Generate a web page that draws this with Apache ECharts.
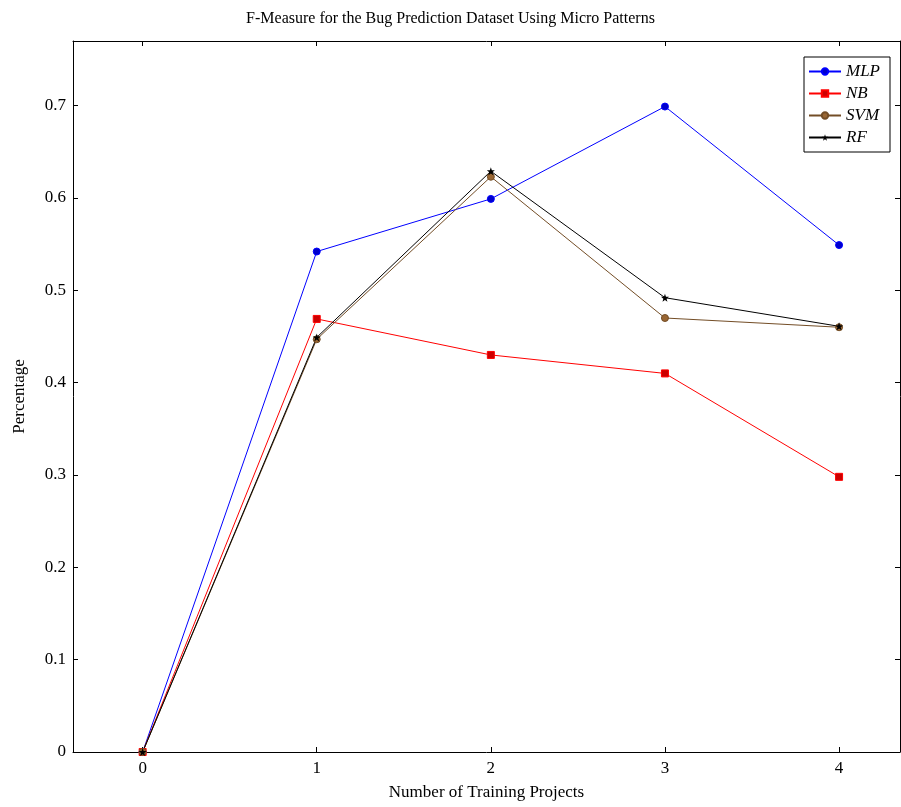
<!DOCTYPE html>
<html>
<head>
<meta charset="utf-8">
<script src="https://cdn.jsdelivr.net/npm/echarts@6/dist/echarts.min.js"></script>
<style>
html,body{margin:0;padding:0;background:#fff;}
#mychart{width:901px;height:807px;}
</style>
</head>
<body>
<div id="mychart"></div>
<script>
// 数据
const projects = [0, 1, 2, 3, 4];
const xTicks = [0, 1, 2, 3, 4];
const yTicks = [0, 0.1, 0.2, 0.3, 0.4, 0.5, 0.6, 0.7];
const mlp = [0, 0.542, 0.599, 0.699, 0.549];
const nb = [0, 0.469, 0.43, 0.41, 0.298];
const svm = [0, 0.447, 0.623, 0.47, 0.46];
const rf = [0, 0.449, 0.629, 0.492, 0.461];

const pair = arr => projects.map((p, i) => [p, arr[i]]);
const starPath = 'path://M0,-10L2.35,-3.24L9.51,-3.09L3.8,1.24L5.88,8.09L0,4L-5.88,8.09L-3.8,1.24L-9.51,-3.09L-2.35,-3.24Z';
const serif = '"Liberation Serif", "DejaVu Serif", serif';

let myEcharts = echarts.init(document.getElementById('mychart'));

const tickStyle = { inside: true, length: 5, lineStyle: { color: '#000', width: 1 } };
const lineStyle = { onZero: false, lineStyle: { color: '#000', width: 1 } };

let option = {
    backgroundColor: '#fff',
    animation: false,
    title: {
        text: 'F-Measure for the Bug Prediction Dataset Using Micro Patterns',
        left: 'center',
        top: 6,
        textStyle: { fontFamily: serif, fontSize: 16, fontWeight: 'normal', color: '#000' }
    },
    legend: {
        right: 11,
        top: 57,
        orient: 'vertical',
        itemWidth: 32,
        itemHeight: 8,
        itemGap: 5,
        padding: [6, 10, 6, 4],
        borderColor: '#000',
        borderWidth: 1,
        backgroundColor: '#fff',
        textStyle: { fontFamily: serif, fontSize: 17, fontStyle: 'italic', color: '#000' },
        data: ['MLP', 'NB', 'SVM', 'RF']
    },
    grid: { left: 73, right: 1, top: 41, bottom: 55, outerBoundsMode: 'none', containLabel: false },
    xAxis: [{
        type: 'value',
        min: -0.4,
        max: 4.35,
        name: 'Number of Training Projects',
        nameLocation: 'middle',
        nameGap: 32,
        nameTextStyle: { fontFamily: serif, fontSize: 17, color: '#000' },
        axisLine: lineStyle,
        axisTick: Object.assign({ customValues: xTicks }, tickStyle),
        axisLabel: { customValues: xTicks, fontFamily: serif, fontSize: 17, color: '#000', margin: 8 },
        splitLine: { show: false }
    }, {
        type: 'value',
        position: 'top',
        min: -0.4,
        max: 4.35,
        axisLine: lineStyle,
        axisTick: Object.assign({ customValues: xTicks }, tickStyle),
        axisLabel: { show: false },
        splitLine: { show: false }
    }],
    yAxis: [{
        type: 'value',
        min: 0,
        max: 0.77,
        name: 'Percentage',
        nameLocation: 'middle',
        nameGap: 45,
        nameTextStyle: { fontFamily: serif, fontSize: 17, color: '#000' },
        axisLine: Object.assign({ show: true }, lineStyle),
        axisTick: Object.assign({ customValues: yTicks }, tickStyle),
        axisLabel: { customValues: yTicks, fontFamily: serif, fontSize: 17, color: '#000', margin: 7,
            formatter: v => v === 0 ? '0' : v.toFixed(1) },
        splitLine: { show: false }
    }, {
        type: 'value',
        position: 'right',
        min: 0,
        max: 0.77,
        axisLine: Object.assign({ show: true }, lineStyle),
        axisTick: Object.assign({ customValues: yTicks }, tickStyle),
        axisLabel: { show: false },
        splitLine: { show: false }
    }],
    series: [
        {
            name: 'MLP', type: 'line', data: pair(mlp),
            symbol: 'circle', symbolSize: 7,
            lineStyle: { color: '#0000ff', width: 1 },
            itemStyle: { color: '#0000cc', borderColor: '#0000ff', borderWidth: 1 }
        },
        {
            name: 'NB', type: 'line', data: pair(nb),
            symbol: 'rect', symbolSize: 7,
            lineStyle: { color: '#ff0000', width: 1 },
            itemStyle: { color: '#cc0000', borderColor: '#ff0000', borderWidth: 1 }
        },
        {
            name: 'SVM', type: 'line', data: pair(svm),
            symbol: 'circle', symbolSize: 7,
            lineStyle: { color: '#734d26', width: 1 },
            itemStyle: { color: '#996633', borderColor: '#734d26', borderWidth: 1 }
        },
        {
            name: 'RF', type: 'line', data: pair(rf),
            symbol: starPath, symbolSize: 8,
            lineStyle: { color: '#000', width: 1 },
            itemStyle: { color: '#000', borderColor: '#000', borderWidth: 0 }
        }
    ]
};

myEcharts.setOption(option);
</script>
</body>
</html>
